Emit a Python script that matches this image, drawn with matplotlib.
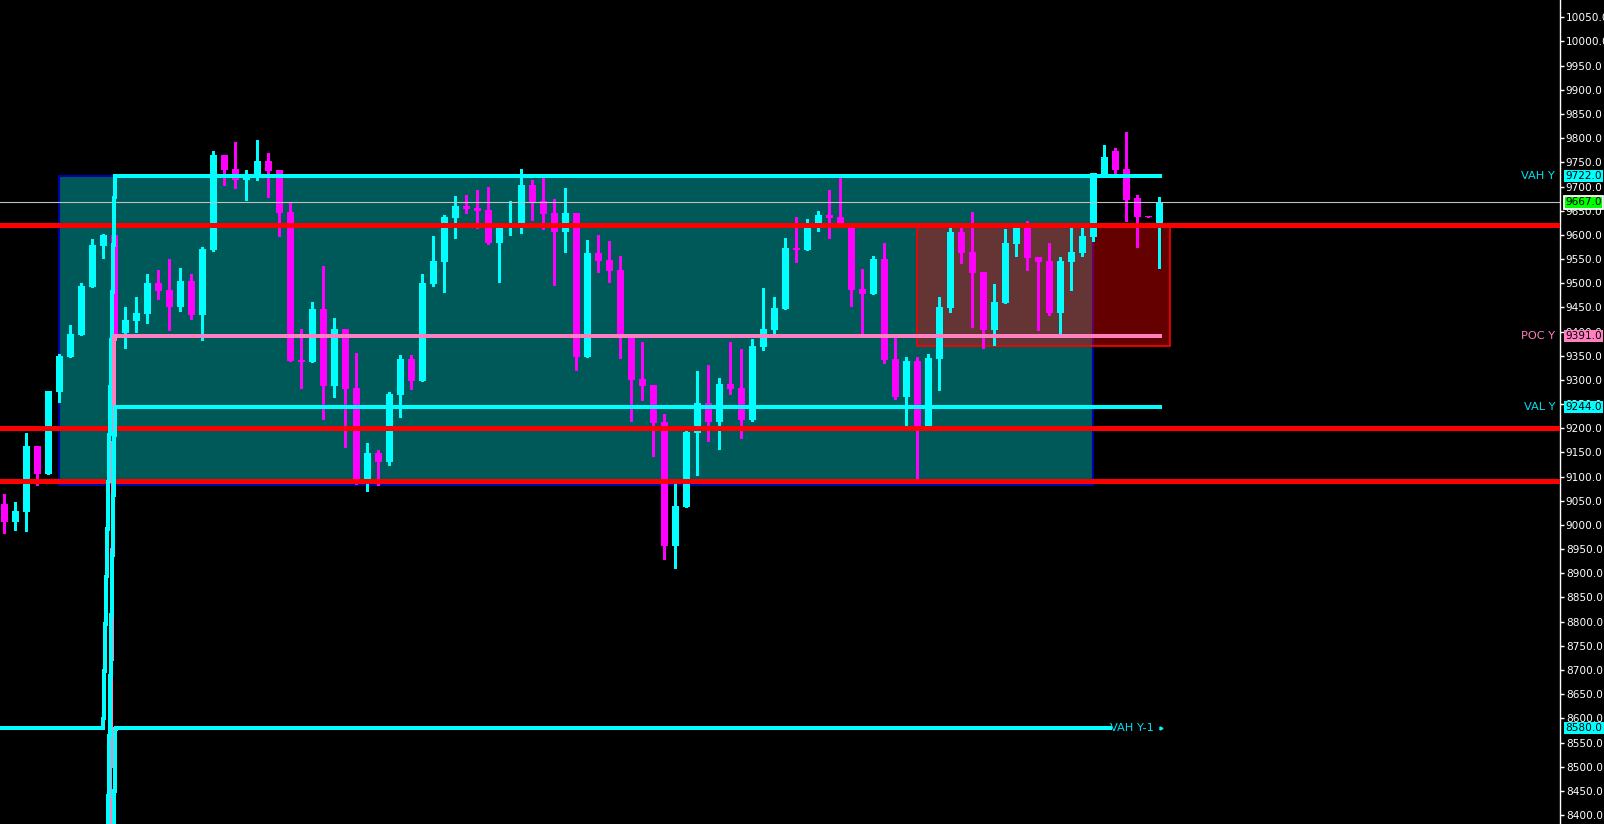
import matplotlib
matplotlib.use("Agg")
import matplotlib.pyplot as plt
from matplotlib.patches import Rectangle
from matplotlib.transforms import blended_transform_factory
import numpy as np

# ---------------- data ----------------
opens = [9043, 9007, 9027, 9163, 9106, 9276, 9348, 9393, 9493, 9577,
         9600, 9398, 9422, 9436, 9500, 9486, 9451, 9505, 9434, 9569,
         9765, 9736, 9714, 9718, 9753, 9734, 9647, 9341, 9338, 9447,
         9287, 9405, 9283, 9095, 9149, 9130, 9269, 9343, 9298, 9498,
         9544, 9635, 9660, 9656, 9651, 9583, 9618, 9625, 9703, 9670,
         9645, 9606, 9645, 9347, 9562, 9548, 9527, 9393, 9302, 9289,
         9213, 8957, 9037, 9190, 9252, 9213, 9291, 9283, 9217, 9368,
         9403, 9447, 9573, 9569, 9620, 9641, 9637, 9618, 9488, 9478,
         9550, 9343, 9264, 9339, 9205, 9343, 9449, 9606, 9564, 9523,
         9403, 9459, 9581, 9616, 9554, 9546, 9438, 9544, 9562, 9595,
         9726, 9774, 9736, 9676, 9639, 9625]
highs = [9064, 9048, 9190, 9163, 9277, 9354, 9414, 9500, 9591, 9602,
         9602, 9451, 9472, 9519, 9527, 9550, 9532, 9519, 9575, 9774,
         9765, 9792, 9734, 9796, 9769, 9734, 9665, 9405, 9461, 9536,
         9428, 9405, 9356, 9170, 9155, 9275, 9352, 9352, 9519, 9598,
         9641, 9680, 9682, 9693, 9699, 9625, 9670, 9736, 9713, 9720,
         9674, 9697, 9645, 9589, 9600, 9587, 9556, 9393, 9378, 9289,
         9230, 9095, 9196, 9318, 9331, 9304, 9378, 9364, 9385, 9490,
         9471, 9593, 9637, 9633, 9649, 9693, 9720, 9620, 9529, 9556,
         9583, 9389, 9347, 9347, 9354, 9471, 9616, 9618, 9647, 9523,
         9498, 9612, 9618, 9629, 9554, 9583, 9554, 9618, 9618, 9728,
         9786, 9780, 9813, 9682, 9639, 9678]
lows = [8984, 8990, 8988, 9083, 9106, 9255, 9348, 9393, 9493, 9553,
        9390, 9366, 9400, 9418, 9467, 9403, 9443, 9426, 9383, 9567,
        9703, 9697, 9672, 9713, 9678, 9598, 9339, 9283, 9338, 9219,
        9264, 9161, 9085, 9070, 9083, 9124, 9223, 9281, 9298, 9494,
        9482, 9593, 9645, 9614, 9581, 9502, 9600, 9604, 9631, 9612,
        9496, 9565, 9320, 9347, 9523, 9502, 9345, 9215, 9258, 9143,
        8930, 8912, 9037, 9103, 9174, 9157, 9271, 9180, 9215, 9362,
        9397, 9447, 9544, 9569, 9608, 9593, 9616, 9453, 9395, 9478,
        9335, 9260, 9203, 9093, 9205, 9279, 9441, 9542, 9409, 9366,
        9372, 9459, 9556, 9527, 9403, 9434, 9395, 9486, 9556, 9587,
        9726, 9726, 9629, 9575, 9637, 9531]
closes = [9007, 9029, 9163, 9106, 9277, 9350, 9395, 9494, 9579, 9600,
          9396, 9424, 9438, 9500, 9484, 9451, 9505, 9434, 9571, 9765,
          9734, 9714, 9722, 9753, 9732, 9645, 9339, 9338, 9447, 9287,
          9405, 9281, 9095, 9149, 9130, 9271, 9343, 9298, 9500, 9546,
          9637, 9660, 9654, 9649, 9583, 9625, 9620, 9703, 9668, 9643,
          9606, 9645, 9347, 9562, 9546, 9525, 9393, 9300, 9287, 9211,
          8957, 9039, 9192, 9252, 9213, 9291, 9281, 9217, 9370, 9405,
          9449, 9573, 9569, 9618, 9641, 9635, 9624, 9486, 9478, 9550,
          9341, 9264, 9339, 9205, 9345, 9451, 9606, 9562, 9521, 9403,
          9461, 9583, 9616, 9552, 9544, 9438, 9546, 9564, 9598, 9728,
          9761, 9734, 9672, 9637, 9637, 9667]

y_ticks = list(range(8400, 10051, 50))

# levels
vah_y = 9722.0
poc_y = 9391.0
val_y = 9244.0
vah_y1 = 8580.0
last_price = 9667.0
red_levels = [9620, 9200, 9090]

# level series (candle index, price) incl. jump from previous session
vah_y_x = [-0.4, 9.0, 10.06, 105.1]
vah_y_v = [8580, 8580, 9722, 9722]
vah_y1_x = [9.9, 10.11, 100.5]
vah_y1_v = [8280, 8580, 8580]
poc_y_x = [9.55, 10.02, 105.1]
poc_y_v = [8250, 9391, 9391]
val_y_x = [9.35, 10.06, 105.1]
val_y_v = [8270, 9244, 9244]

# value-area boxes: (x0, x1, low, high) in candle index / price
va_box = (5.0, 98.97, 9083, 9722)
today_box = (83.0, 106.0, 9370, 9620)

# ---------------- styling ----------------
CYAN = '#00ffff'
MAGENTA = '#ff00ff'
PINK = '#ff80c0'
RED = '#ff0000'
FS = 7.6
FS_LBL = 8.2
plt.rcParams['font.family'] = ['DejaVu Sans']

fig = plt.figure(figsize=(16.04, 8.24), dpi=100, facecolor='black')
ax = fig.add_axes([0, 0, 1560 / 1604, 1])
ax.set_facecolor('black')
ax.set_xlim(-0.391, 141.43)
ax.set_ylim(8381.5, 10085.8)

for s in ['left', 'top', 'bottom']:
    ax.spines[s].set_visible(False)
ax.spines['right'].set_color('white')
ax.spines['right'].set_linewidth(1.0)
ax.set_xticks([])
ax.yaxis.tick_right()
ax.set_yticks(y_ticks)
ax.set_yticklabels([f"{v:.1f}" for v in y_ticks])
ax.tick_params(axis='y', colors='white', length=3, width=1, pad=1.2,
               labelsize=FS)

# boxes
x0, x1, lo, hi = va_box
ax.add_patch(Rectangle((x0, lo), x1 - x0, hi - lo, facecolor='#005959',
                       edgecolor='#0000aa', linewidth=1.5, zorder=1))
x0, x1, lo, hi = today_box
ax.add_patch(Rectangle((x0, lo), x1 - x0, hi - lo, facecolor=(1, 0, 0, 0.4),
                       edgecolor=RED, linewidth=1.2, zorder=1.5))

# candles
o = np.array(opens, float)
h = np.array(highs, float)
l = np.array(lows, float)
c = np.array(closes, float)
idx = np.arange(len(o))
up = c >= o
cols = [CYAN if u else MAGENTA for u in up]
bottoms = np.minimum(o, c)
heights = np.maximum(np.abs(c - o), 3.0)
ax.vlines(idx, l, h, colors=cols, linewidth=0.9, zorder=2.9, antialiased=False)
ax.bar(idx, heights, bottom=bottoms, width=0.64, color=cols, linewidth=0,
       zorder=3, antialiased=False)

# horizontal levels
for v in red_levels:
    ax.axhline(v, color=RED, linewidth=2.2, zorder=4, antialiased=False)
ax.axhline(last_price, color='#c0c0c0', linewidth=0.8, zorder=4)

LW = 2.2
ax.plot(vah_y_x, vah_y_v, color=CYAN, lw=LW, zorder=5, antialiased=False)
ax.plot(vah_y1_x, vah_y1_v, color=CYAN, lw=LW, zorder=5, antialiased=False)
ax.plot(poc_y_x, poc_y_v, color=PINK, lw=LW, zorder=5, antialiased=False)
ax.plot(val_y_x, val_y_v, color=CYAN, lw=LW, zorder=5, antialiased=False)

# level labels
bt = blended_transform_factory(ax.transAxes, ax.transData)
ax.text(0.997, vah_y, 'VAH Y', transform=bt, ha='right', va='center',
        color='#00e0f0', fontsize=FS_LBL, zorder=6)
ax.text(0.997, poc_y, 'POC Y', transform=bt, ha='right', va='center',
        color=PINK, fontsize=FS_LBL, zorder=6)
ax.text(0.997, val_y, 'VAL Y', transform=bt, ha='right', va='center',
        color='#00e0f0', fontsize=FS_LBL, zorder=6)
ax.text(vah_y1_x[-1] + 0.05, vah_y1, 'VAH Y-1', ha='left', va='center',
        color='#00e0f0', fontsize=FS_LBL, zorder=6)
ax.plot([105.15], [vah_y1], marker='>', ms=2.2, color=CYAN, zorder=6,
        linestyle='none')

# price tags on the axis
def tag(price, fc, ec=None, lw=0.0):
    ax.text(1.0035, price, f"{price:.1f}", transform=bt, ha='left',
            va='center', color='black', fontsize=FS, clip_on=False, zorder=10,
            bbox=dict(boxstyle='square,pad=0.12', fc=fc,
                      ec=ec if ec else fc, lw=lw))

tag(vah_y, CYAN)
tag(last_price, '#00ff00', 'white', 1.3)
tag(poc_y, PINK)
tag(val_y, CYAN)
tag(vah_y1, CYAN)

fig.savefig('out.png', dpi=100, facecolor='black')
